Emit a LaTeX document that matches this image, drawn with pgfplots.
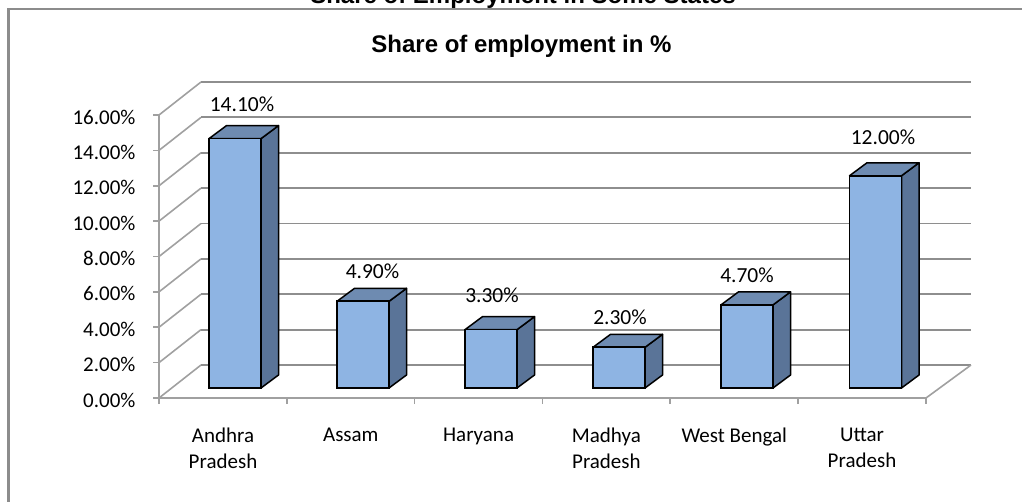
\documentclass[border=0pt]{standalone}
\usepackage{pgfplots}
\pgfplotsset{compat=1.18}
\usepackage{fontspec}
\setmainfont{Carlito}
\newfontfamily\arialb[BoldFont=Liberation Sans Bold]{Liberation Sans}
\definecolor{framegray}{HTML}{8C8C8C}
\definecolor{gridgray}{HTML}{8E8E8E}
\definecolor{wallgray}{HTML}{A0A0A0}
\definecolor{barfront}{HTML}{8EB4E3}
\definecolor{barside}{HTML}{5A7498}
\definecolor{bartop}{HTML}{6E8BB1}
% one grid level: left wall, then back wall
\newcommand{\gridlevel}[1]{%
  \pgfmathsetmacro{\gy}{#1+1.865}%
  \addplot[wallgray,line width=1.6pt] coordinates {(159,#1) (201,\gy)};
  \addplot[gridgray,line width=1.9pt] coordinates {(201,\gy) (971,\gy)};
}
% one box: left edge of the front face in px, value in %
\newcommand{\threedbar}[2]{%
  \pgfmathsetmacro{\xr}{#1+52}%
  \pgfmathsetmacro{\xb}{#1+52+17.5}%
  \pgfmathsetmacro{\xc}{#1+17.5}%
  \pgfmathsetmacro{\yt}{#2+0.565}%
  \pgfmathsetmacro{\ytb}{#2+0.565+0.735}%
  \addplot[fill=barside,draw=black,line width=1.5pt,line join=round] coordinates {(\xr,0.565) (\xb,1.3) (\xb,\ytb) (\xr,\yt)} -- cycle;
  \addplot[fill=bartop,draw=black,line width=1.5pt,line join=round] coordinates {(#1,\yt) (\xc,\ytb) (\xb,\ytb) (\xr,\yt)} -- cycle;
  \addplot[fill=barfront,draw=black,line width=1.7pt,line join=miter] coordinates {(#1,0.565) (\xr,0.565) (\xr,\yt) (#1,\yt)} -- cycle;
}
\begin{document}
\begin{tikzpicture}[x=1pt,y=1pt]
\useasboundingbox (0,0) rectangle (1022,501);
\draw[framegray,line width=2.2pt] (8.5,-2) -- (8.5,492) -- (1024,492);
\node[font=\arialb\bfseries\fontsize{24}{26}\selectfont,anchor=center] at (523,504) {Share of Employment in Some States};
\node[font=\arialb\bfseries\fontsize{24}{26}\selectfont,anchor=center] at (521.5,455) {Share of employment in \%};
\begin{axis}[
  at={(159pt,103pt)},anchor=south west,
  scale only axis,width=767pt,height=283pt,
  xmin=159,xmax=926,ymin=0,ymax=16,
  clip=false,
  axis x line*=bottom,axis y line*=left,
  axis line style={wallgray,line width=1.7pt,-},
  tick align=outside,
  ytick={0,2,4,6,8,10,12,14,16},
  yticklabels={0.00\%,2.00\%,4.00\%,6.00\%,8.00\%,10.00\%,12.00\%,14.00\%,16.00\%},
  xtick={223,350.8,478.6,606.4,734.2,862},
  xticklabels={Andhra\\Pradesh,Assam,Haryana,Madhya\\Pradesh,West Bengal,Uttar\\Pradesh},
  minor xtick={159,286.8,414.6,542.4,670.2,798,925.8},
  major tick length=6pt,minor tick length=6pt,
  major x tick style={draw=none},
  every tick/.style={wallgray,line width=1.7pt},
  every minor tick/.style={wallgray,line width=1.7pt},
  ticklabel style={font=\fontsize{21}{26}\selectfont,text=black},
  xticklabel style={align=center,anchor=north,yshift=-20pt},
  yticklabel style={anchor=east,xshift=-14pt,yshift=-2pt},
]
\pgfplotsinvokeforeach{0,2,4,6,8,10,12,14,16}{\gridlevel{#1}}
\addplot[wallgray,line width=1.6pt] coordinates {(926,0) (971,1.865)};
\threedbar{209}{14.10}
\threedbar{337}{4.90}
\threedbar{465}{3.30}
\threedbar{593}{2.30}
\threedbar{721}{4.70}
\threedbar{849.5}{12.00}
\addplot[draw=none,mark=none,point meta=explicit symbolic,
  nodes near coords={\pgfplotspointmeta\%},
  every node near coord/.style={anchor=center,font=\fontsize{21.5}{24}\selectfont,text=black,inner sep=0pt},
] table[x=x,y=y,meta=v] {
x y v
242 16.6 14.10
372.5 7.16 4.90
492 5.8 3.30
620 4.56 2.30
747 6.93 4.70
883 14.74 12.00
};
\end{axis}
\end{tikzpicture}
\end{document}
